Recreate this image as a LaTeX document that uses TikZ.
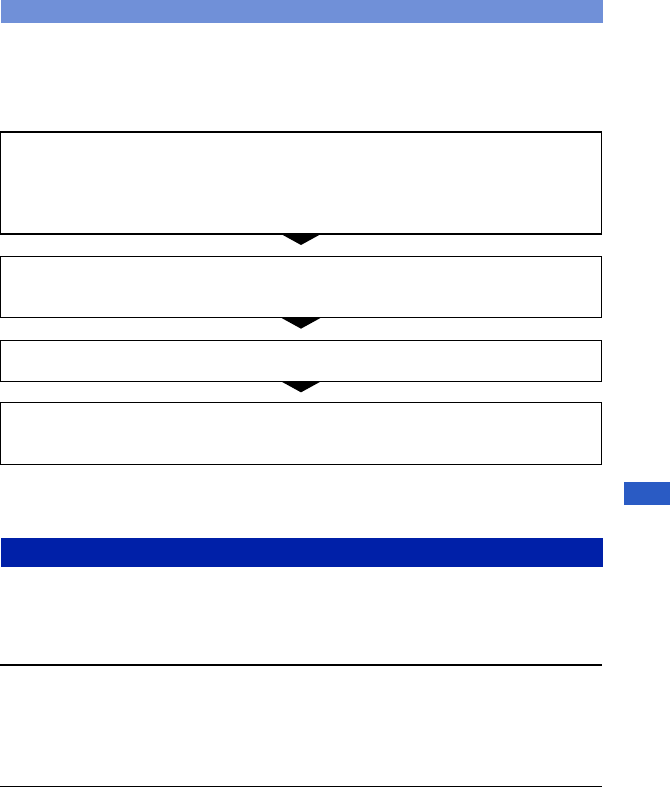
\documentclass[tikz,border=0pt]{standalone}
\usetikzlibrary{positioning}
\definecolor{barlight}{HTML}{7090D8}
\definecolor{bardark}{HTML}{0020A8}
\definecolor{tabblue}{HTML}{2A5BC4}

\begin{document}
\begin{tikzpicture}[x=0.75pt, y=-0.75pt, node distance=17pt,
  every node/.style={inner sep=0pt, outer sep=0pt},
  stepbox/.style={draw, line width=0.9pt, minimum width=451pt, anchor=north}]
  \useasboundingbox (0,0) rectangle (670,788);
  % header bars and side tab
  \fill[barlight] (1,0) rectangle (603,23);
  \fill[bardark] (1,538) rectangle (603,567);
  \fill[tabblue] (624,482) rectangle (670,505);
  % flow boxes
  \node[stepbox, minimum height=76.5pt] (s1) at (301,132) {};
  \node[stepbox, minimum height=45.75pt, below=of s1] (s2) {};
  \node[stepbox, minimum height=30.75pt, below=of s2] (s3) {};
  \node[stepbox, minimum height=46.5pt, below=16pt of s3] (s4) {};
  \foreach \a in {s1,s2,s3} \fill (\a.south) ++(-20,0) -- ++(40,0) -- ++(-20,11) -- cycle;
  % rules
  \draw[line width=0.9pt] (0,665) -- (602,665);
  \draw[line width=0.9pt] (0,786.5) -- (602,786.5);
\end{tikzpicture}
\end{document}
